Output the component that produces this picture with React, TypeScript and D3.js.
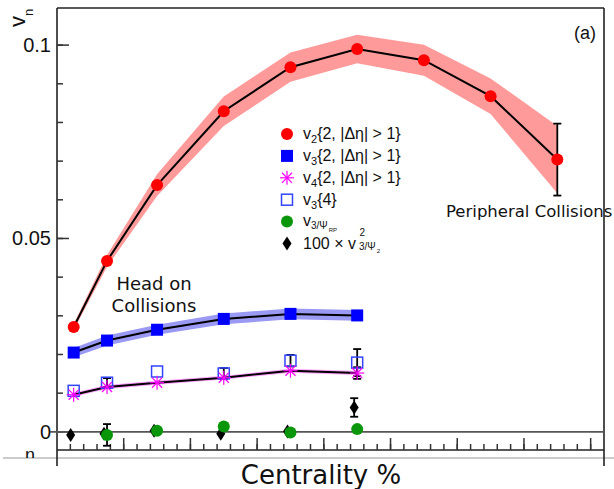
import * as d3 from "d3";

// centrality bins (%)
const centrality = [2.5, 7.5, 15, 25, 35, 45, 55, 65, 75];

// v2{2, |dEta| > 1}
const v2 = [0.0271, 0.0442, 0.0638, 0.0829, 0.0943, 0.099, 0.0961, 0.0868, 0.0704];
const v2Band = [0.0008, 0.0015, 0.0028, 0.0038, 0.0038, 0.0037, 0.004, 0.0046, 0.0087];
const v2Err = [0, 0, 0, 0, 0, 0, 0, 0, 0.0093];

// v3{2, |dEta| > 1}
const v3 = [0.0205, 0.0236, 0.0264, 0.0292, 0.0305, 0.0301];
const v3Band = [0.0012, 0.0013, 0.0013, 0.0014, 0.0014, 0.0014];

// v4{2, |dEta| > 1}
const v4 = [0.0096, 0.0116, 0.0127, 0.014, 0.0158, 0.0152];
const v4Band = [0.0005, 0.0005, 0.0005, 0.0005, 0.0005, 0.0005];
const v4Err = [0, 0, 0, 0, 0, 0.0015];

// v3{4}
const v34 = [0.0106, 0.0127, 0.0156, 0.0151, 0.0184, 0.0179];
const v34Err = [0, 0.0012, 0, 0.0014, 0.0015, 0.0035];

// v3/Psi_RP
const greenX = [7.5, 15, 25, 35, 45];
const green = [-0.0008, 0.0003, 0.0014, -0.0002, 0.0007];
const greenErr = [0.0028, 0, 0, 0, 0];

// 100 x v^2 3/Psi2
const diaX = [2.5, 7.5, 15, 25, 35, 45];
const dia = [-0.0008, -0.0005, 0.0003, -0.0005, 0.0001, 0.0063];
const diaErr = [0, 0, 0, 0, 0, 0.0024];

const yMajor = [0, 0.05, 0.1];
const yMajorLabels = ["0", "0.05", "0.1"];
const yMinor = d3.range(0, 0.105, 0.01);
const xMinor = d3.range(2, 81, 2);
const xMajor = d3.range(10, 81, 10);

const W = 614;
const H = 489;
const left = 57;
const right = 604;
const top = 8;
const bottom = 450;

const x = d3.scaleLinear().domain([0, 82]).range([left, right]);
const y = d3.scaleLinear().domain([-0.0047, 0.1096]).range([bottom, top]);

const SANS = "'Liberation Sans', Arial, sans-serif";
const DEJA = "'DejaVu Sans', sans-serif";

type Pt = { c: number; v: number; b: number };

const area = d3
  .area<Pt>()
  .x((d) => x(d.c))
  .y0((d) => y(d.v - d.b))
  .y1((d) => y(d.v + d.b));

const line = d3
  .line<Pt>()
  .x((d) => x(d.c))
  .y((d) => y(d.v));

const pts = (vals: number[], band: number[]) =>
  vals.map((v, i) => ({ c: centrality[i], v, b: band[i] }));

function ErrBar({ cx, v, e }: { cx: number; v: number; e: number }) {
  if (!e) return null;
  const y1 = y(v + e);
  const y2 = y(v - e);
  return (
    <g stroke="#000" strokeWidth={1.8}>
      <line x1={cx} x2={cx} y1={y1} y2={y2} />
      <line x1={cx - 4} x2={cx + 4} y1={y1} y2={y1} />
      <line x1={cx - 4} x2={cx + 4} y1={y2} y2={y2} />
    </g>
  );
}

function Star({ cx, cy, r = 7 }: { cx: number; cy: number; r?: number }) {
  const d = r * 0.72;
  return (
    <g stroke="#ff00ff" strokeWidth={1.2}>
      <line x1={cx - r} x2={cx + r} y1={cy} y2={cy} />
      <line x1={cx} x2={cx} y1={cy - r} y2={cy + r} />
      <line x1={cx - d} x2={cx + d} y1={cy - d} y2={cy + d} />
      <line x1={cx - d} x2={cx + d} y1={cy + d} y2={cy - d} />
    </g>
  );
}

function Diamond({ cx, cy }: { cx: number; cy: number }) {
  return <path d={`M${cx},${cy - 7}L${cx + 4.5},${cy}L${cx},${cy + 7}L${cx - 4.5},${cy}Z`} fill="#000" />;
}

export default function App() {
  const p2 = pts(v2, v2Band);
  const p3 = pts(v3, v3Band);
  const p4 = pts(v4, v4Band);
  const diaShift = -0.45;
  const lx = 287;
  const tx = 303;
  const rowY = (i: number) => 134 + 21.9 * i;

  return (
    <svg width={W} height={H} style={{ position: "absolute", left: 0, top: 0, background: "#fff" }}>
      <defs>
        <clipPath id="cutN">
          <rect x={0} y={440} width={56} height={18} />
        </clipPath>
      </defs>

      {/* frame */}
      <line x1={3} x2={W} y1={458} y2={458} stroke="#bbb" strokeWidth={1.5} />
      <g stroke="#222" strokeWidth={1.6} fill="none">
        <line x1={left} x2={left} y1={top} y2={466} />
        <line x1={right} x2={right} y1={top} y2={466} />
        <line x1={left} x2={right} y1={top} y2={top} />
        <line x1={left} x2={right} y1={bottom} y2={bottom} />
      </g>

      {/* ticks */}
      <g stroke="#333" strokeWidth={1.5}>
        {yMinor.map((t) => (
          <line key={"ym" + t} x1={left} x2={left + 6} y1={y(t)} y2={y(t)} />
        ))}
        {yMajor.map((t) => (
          <line key={"yM" + t} x1={left} x2={left + 12} y1={y(t)} y2={y(t)} />
        ))}
        {xMinor.map((t) => (
          <line key={"xm" + t} x1={x(t)} x2={x(t)} y1={bottom} y2={bottom - 6} />
        ))}
        {xMajor.map((t) => (
          <line key={"xM" + t} x1={x(t)} x2={x(t)} y1={bottom} y2={bottom - 12} />
        ))}
      </g>
      {yMajor.map((t, i) => (
        <text key={"yl" + t} x={51} y={y(t) + 7} textAnchor="end" fontFamily={SANS} fontSize={20} fill="#111">
          {yMajorLabels[i]}
        </text>
      ))}

      {/* zero line */}
      <line x1={50} x2={right} y1={y(0)} y2={y(0)} stroke="#555" strokeWidth={1.6} />

      {/* bands */}
      <path d={area(p2) || ""} fill="#ff9a9a" />
      <path d={area(p3) || ""} fill="#9a9af5" />
      <path d={area(p4) || ""} fill="#ff9cff" />

      {/* lines */}
      <g fill="none" stroke="#000" strokeWidth={2}>
        <path d={line(p2) || ""} />
        <path d={line(p3) || ""} />
        <path d={line(p4) || ""} />
      </g>

      {/* error bars */}
      {v2.map((v, i) => (
        <ErrBar key={"e2" + i} cx={x(centrality[i])} v={v} e={v2Err[i]} />
      ))}
      {v34.map((v, i) => (
        <ErrBar key={"e34" + i} cx={x(centrality[i])} v={v} e={v34Err[i]} />
      ))}
      {v4.map((v, i) => (
        <ErrBar key={"e4" + i} cx={x(centrality[i])} v={v} e={v4Err[i]} />
      ))}
      {green.map((v, i) => (
        <ErrBar key={"eg" + i} cx={x(greenX[i])} v={v} e={greenErr[i]} />
      ))}
      {dia.map((v, i) => (
        <ErrBar key={"ed" + i} cx={x(diaX[i] + diaShift)} v={v} e={diaErr[i]} />
      ))}

      {/* markers */}
      {v34.map((v, i) => (
        <rect key={"o" + i} x={x(centrality[i]) - 5.5} y={y(v) - 5.5} width={11} height={11} fill="none" stroke="#3344ff" strokeWidth={1.5} />
      ))}
      {v4.map((v, i) => (
        <Star key={"s" + i} cx={x(centrality[i])} cy={y(v)} />
      ))}
      {v3.map((v, i) => (
        <rect key={"b" + i} x={x(centrality[i]) - 6} y={y(v) - 6} width={12} height={12} fill="#0000ff" />
      ))}
      {v2.map((v, i) => (
        <circle key={"r" + i} cx={x(centrality[i])} cy={y(v)} r={6} fill="#ff0000" />
      ))}
      {dia.map((v, i) => (
        <Diamond key={"d" + i} cx={x(diaX[i] + diaShift)} cy={y(v)} />
      ))}
      {green.map((v, i) => (
        <circle key={"g" + i} cx={x(greenX[i])} cy={y(v)} r={6} fill="#0a960a" />
      ))}

      {/* legend */}
      <circle cx={lx} cy={rowY(0)} r={6} fill="#ff0000" />
      <rect x={lx - 6} y={rowY(1) - 6} width={12} height={12} fill="#0000ff" />
      <Star cx={lx} cy={rowY(2)} />
      <rect x={lx - 5.5} y={rowY(3) - 5.5} width={11} height={11} fill="none" stroke="#3344ff" strokeWidth={1.5} />
      <circle cx={lx} cy={rowY(4)} r={6} fill="#0a960a" />
      <Diamond cx={lx} cy={rowY(5)} />
      <g fontFamily={SANS} fontSize={16} fill="#111">
        {["2", "3", "4"].map((n, i) => (
          <text key={"lt" + n} x={tx} y={rowY(i) + 5}>
            v<tspan dy={4} fontSize={11}>{n}</tspan>
            <tspan dy={-4}>{"{2, |Δη| > 1}"}</tspan>
          </text>
        ))}
        <text x={tx} y={rowY(3) + 5}>
          v<tspan dy={4} fontSize={11}>3</tspan>
          <tspan dy={-4}>{"{4}"}</tspan>
        </text>
        <text x={tx} y={rowY(4) + 4}>
          v<tspan dy={3} fontSize={10}>3/Ψ</tspan>
          <tspan dy={3} dx={1} fontSize={6}>RP</tspan>
        </text>
        <text x={tx} y={rowY(5) + 5}>100 × v</text>
        <text x={359.5} y={rowY(5) - 8} fontSize={10}>2</text>
        <text x={359} y={rowY(5) + 6} fontSize={10}>
          3/Ψ<tspan dy={3} dx={1} fontSize={6}>2</tspan>
        </text>
      </g>

      {/* annotations */}
      <text x={154} y={290} textAnchor="middle" fontFamily={DEJA} fontSize={18} fill="#111">Head on</text>
      <text x={154} y={311.5} textAnchor="middle" fontFamily={DEJA} fontSize={18} fill="#111">Collisions</text>
      <text x={446} y={217} fontFamily={DEJA} fontSize={16.5} fill="#111">Peripheral Collisions</text>
      <text x={574} y={39} fontFamily={SANS} fontSize={18} fill="#111">(a)</text>

      {/* axis titles */}
      <text transform="translate(25,27) rotate(-90)" fontFamily={SANS} fontSize={22} fill="#111">
        v<tspan dy={8} fontSize={13}>n</tspan>
      </text>
      <g clipPath="url(#cutN)">
        <text x={25} y={461} fontFamily={SANS} fontSize={18} fill="#111">n</text>
      </g>
      <text x={321} y={484} textAnchor="middle" fontFamily={DEJA} fontSize={26} fill="#111">Centrality %</text>
    </svg>
  );
}
